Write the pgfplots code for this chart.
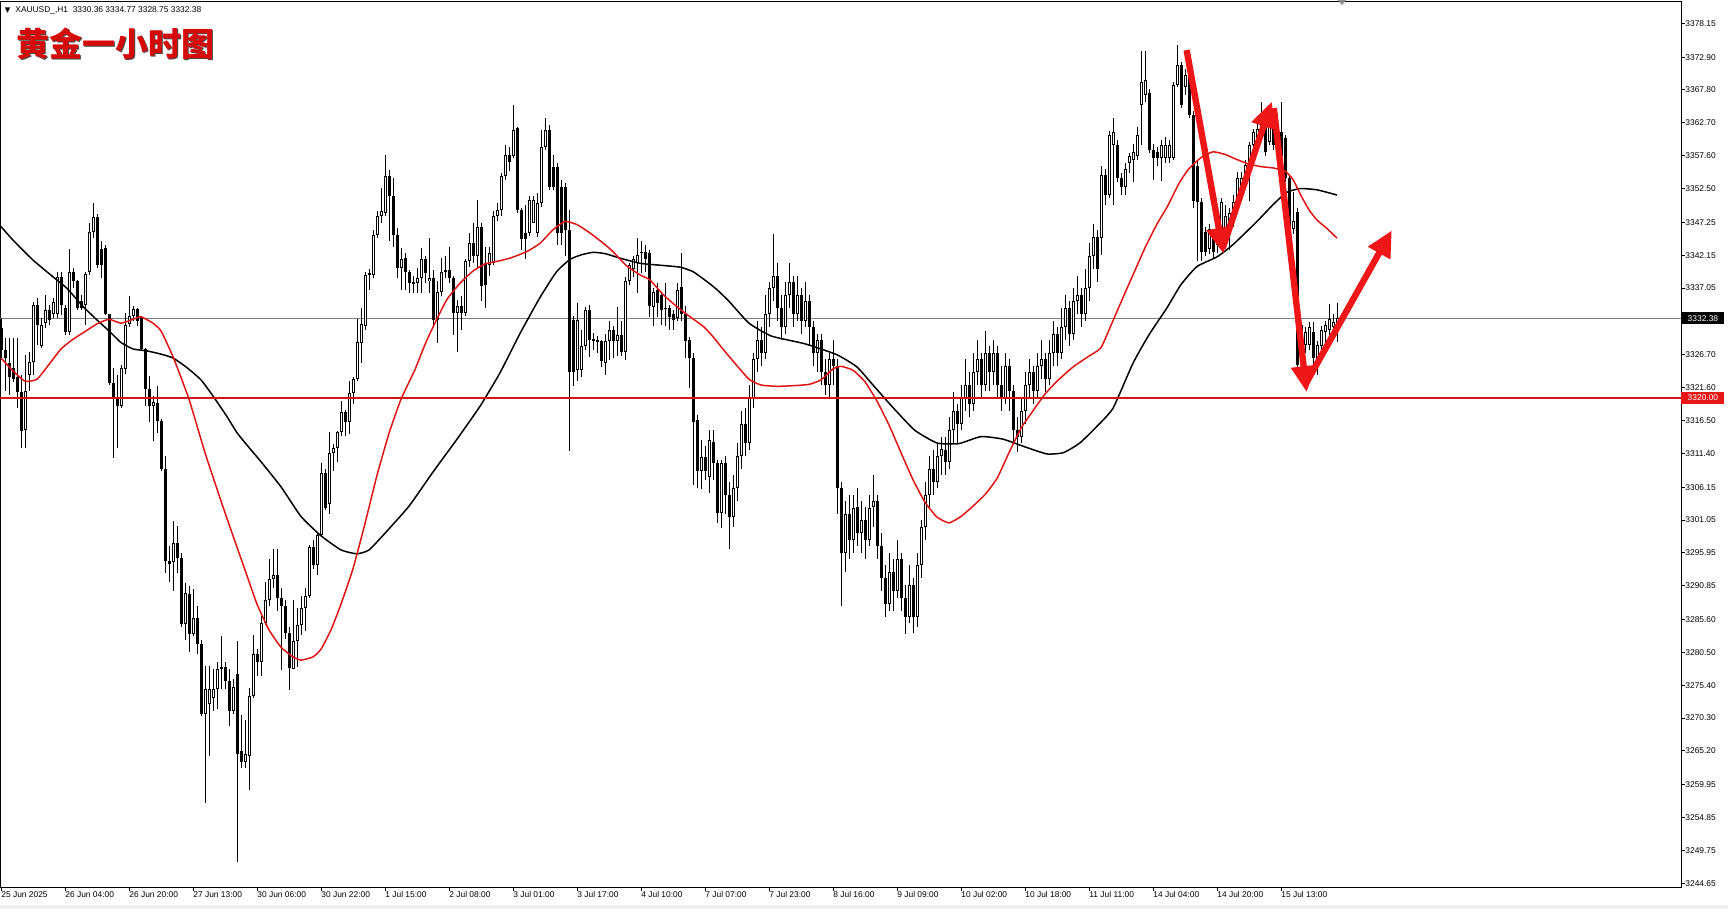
\documentclass[border=0pt]{standalone}
\usepackage{fontspec}
\setmainfont{Liberation Sans}
\newfontfamily\cjk{Noto Sans CJK SC}
\newfontfamily\dejavu{DejaVu Sans}
\usepackage{pgfplots}
\usepackage{pgfplotstable}
\pgfplotsset{compat=1.18}
\usetikzlibrary{arrows.meta}
\definecolor{mared}{RGB}{225,20,20}
\definecolor{lvlred}{RGB}{205,25,25}
\definecolor{arrred}{RGB}{238,22,22}
\definecolor{boxred}{RGB}{232,22,22}
\definecolor{titlered}{RGB}{215,10,10}

\pgfplotstableread{
i o h l c
0 3330.8 3332.4 3326.0 3327.4
1 3327.4 3329.3 3321.0 3326.2
2 3325.4 3329.3 3320.5 3323.3
3 3324.6 3329.3 3322.5 3323.0
4 3323.3 3329.3 3318.4 3321.0
5 3321.0 3323.6 3312.2 3314.8
6 3315.0 3326.7 3312.2 3321.0
7 3323.6 3327.2 3321.0 3325.6
8 3325.6 3334.9 3323.6 3334.4
9 3334.4 3335.5 3328.2 3331.3
10 3328.0 3332.4 3327.8 3331.3
11 3331.6 3336.0 3330.8 3333.7
12 3333.7 3334.4 3331.3 3332.1
13 3333.1 3335.5 3332.4 3334.9
14 3333.1 3339.6 3332.4 3338.8
15 3338.8 3339.6 3332.9 3334.4
16 3333.9 3334.4 3329.8 3330.3
17 3330.3 3343.2 3329.8 3339.6
18 3339.6 3340.1 3337.0 3338.1
19 3338.1 3338.3 3333.6 3333.9
20 3335.0 3336.0 3333.6 3333.9
21 3334.4 3339.6 3331.3 3339.3
22 3339.6 3347.1 3339.1 3345.8
23 3345.8 3350.2 3344.8 3348.1
24 3348.1 3348.6 3340.1 3340.6
25 3343.2 3344.3 3338.6 3340.6
26 3343.2 3343.7 3332.9 3333.1
27 3333.1 3333.1 3322.0 3322.3
28 3322.3 3324.6 3310.6 3320.0
29 3320.0 3323.6 3312.2 3318.7
30 3318.7 3325.1 3318.4 3324.6
31 3324.5 3333.2 3323.8 3331.4
32 3331.4 3335.8 3331.0 3332.7
33 3332.7 3334.3 3332.0 3333.8
34 3333.8 3334.0 3331.2 3332.0
35 3332.5 3332.7 3327.3 3327.6
36 3327.6 3327.8 3318.8 3321.4
37 3321.4 3323.4 3316.2 3318.8
38 3318.8 3320.3 3313.3 3319.3
39 3319.3 3321.9 3314.6 3316.4
40 3316.4 3316.8 3308.6 3308.9
41 3308.9 3311.0 3292.9 3294.7
42 3294.7 3297.0 3291.5 3294.2
43 3294.5 3300.9 3290.0 3297.5
44 3297.5 3300.1 3292.9 3295.2
45 3295.2 3296.0 3284.4 3284.9
46 3284.9 3291.3 3282.5 3289.7
47 3289.5 3290.8 3280.5 3283.3
48 3283.3 3290.3 3283.0 3285.9
49 3285.9 3287.7 3280.2 3281.8
50 3281.8 3282.5 3270.6 3270.9
51 3270.9 3278.4 3257.2 3274.8
52 3272.5 3278.4 3264.4 3274.8
53 3273.5 3277.9 3271.4 3274.8
54 3274.8 3279.0 3271.7 3277.9
55 3277.9 3283.1 3274.8 3278.2
56 3278.2 3279.0 3274.8 3276.1
57 3276.1 3277.9 3269.1 3271.4
58 3271.4 3276.4 3271.0 3275.1
59 3277.1 3282.3 3248.0 3264.7
60 3265.2 3270.8 3262.6 3263.5
61 3263.5 3270.0 3262.6 3264.7
62 3264.4 3275.0 3259.2 3273.8
63 3273.8 3283.2 3273.5 3280.2
64 3280.2 3281.0 3276.8 3279.0
65 3279.0 3286.2 3276.8 3285.0
66 3285.0 3291.4 3284.7 3288.6
67 3288.6 3295.0 3287.7 3291.9
68 3291.9 3296.5 3290.5 3292.6
69 3292.6 3296.5 3287.0 3289.0
70 3289.0 3290.5 3277.7 3287.7
71 3287.7 3288.6 3282.6 3283.5
72 3283.5 3284.4 3274.7 3278.0
73 3278.0 3288.6 3278.0 3282.3
74 3282.3 3287.4 3278.3 3284.7
75 3284.7 3289.3 3283.2 3287.4
76 3287.4 3290.5 3283.8 3289.3
77 3289.3 3297.1 3289.0 3296.8
78 3296.8 3298.0 3293.5 3294.1
79 3294.1 3299.0 3292.6 3298.7
80 3298.7 3309.9 3298.4 3308.4
81 3308.4 3309.0 3302.6 3302.9
82 3303.5 3314.7 3302.0 3311.4
83 3311.4 3312.9 3308.7 3312.3
84 3312.3 3314.9 3310.0 3314.7
85 3314.7 3319.6 3314.1 3317.8
86 3317.8 3318.1 3314.1 3316.2
87 3316.2 3322.6 3314.4 3320.8
88 3320.8 3323.2 3319.0 3322.9
89 3322.9 3332.3 3322.6 3328.7
90 3328.6 3334.0 3325.5 3331.5
91 3331.1 3339.6 3330.6 3339.1
92 3339.1 3340.0 3336.8 3339.4
93 3339.1 3346.0 3338.6 3345.3
94 3345.3 3349.0 3344.8 3348.2
95 3348.2 3352.6 3347.1 3349.0
96 3348.7 3357.7 3348.2 3354.4
97 3354.4 3355.4 3344.3 3351.3
98 3351.3 3354.1 3343.5 3345.3
99 3345.3 3346.4 3338.6 3340.2
100 3340.2 3343.3 3336.8 3341.5
101 3341.7 3342.5 3336.8 3339.6
102 3339.6 3339.9 3336.3 3337.8
103 3337.8 3338.9 3336.3 3337.9
104 3337.8 3340.2 3336.3 3338.6
105 3338.6 3343.3 3336.3 3341.5
106 3341.5 3342.0 3337.8 3339.4
107 3338.1 3344.8 3336.3 3338.6
108 3338.6 3339.9 3331.1 3332.1
109 3332.1 3338.1 3328.5 3336.5
110 3336.5 3341.7 3335.8 3339.6
111 3339.9 3342.0 3338.6 3339.6
112 3339.9 3343.5 3337.8 3338.6
113 3338.6 3338.9 3329.8 3333.2
114 3333.2 3335.2 3327.2 3334.2
115 3334.2 3335.8 3330.6 3333.2
116 3333.2 3341.5 3332.7 3341.2
117 3341.2 3345.6 3340.4 3344.0
118 3344.0 3347.1 3341.0 3342.0
119 3342.0 3350.8 3340.0 3346.6
120 3346.6 3347.1 3335.0 3337.3
121 3340.9 3343.5 3334.0 3337.6
122 3340.7 3343.5 3338.9 3342.5
123 3341.0 3349.0 3340.7 3348.2
124 3348.2 3350.2 3347.5 3349.2
125 3349.2 3354.9 3348.2 3354.4
126 3354.4 3359.3 3353.9 3357.7
127 3357.7 3359.0 3355.2 3356.7
128 3357.5 3365.5 3357.2 3361.6
129 3361.9 3362.1 3348.7 3349.2
130 3349.2 3349.5 3343.0 3344.6
131 3345.6 3350.0 3341.5 3344.6
132 3345.6 3351.3 3345.1 3350.8
133 3347.1 3351.3 3347.1 3350.8
134 3345.6 3351.8 3345.0 3350.2
135 3350.2 3361.6 3349.7 3359.0
136 3359.0 3363.4 3358.5 3361.6
137 3361.6 3362.4 3352.3 3352.8
138 3355.9 3357.7 3352.3 3352.8
139 3355.9 3356.5 3343.8 3345.6
140 3352.8 3353.9 3343.8 3345.6
141 3352.8 3353.3 3342.0 3346.1
142 3346.1 3349.2 3311.7 3324.1
143 3332.1 3332.7 3321.8 3324.1
144 3324.4 3334.7 3322.6 3332.1
145 3324.4 3330.6 3323.3 3328.0
146 3328.0 3334.2 3327.5 3333.7
147 3333.7 3334.5 3326.4 3329.0
148 3329.0 3330.1 3327.5 3329.1
149 3328.8 3329.6 3327.0 3329.0
150 3328.8 3329.0 3324.8 3325.7
151 3325.4 3330.0 3323.6 3328.8
152 3328.8 3331.9 3325.9 3330.6
153 3330.6 3331.1 3326.2 3328.8
154 3328.8 3334.2 3326.5 3329.8
155 3329.8 3331.9 3326.5 3327.2
156 3327.2 3338.8 3325.9 3338.1
157 3338.1 3340.9 3337.5 3340.7
158 3340.0 3342.0 3338.8 3341.5
159 3340.9 3344.8 3336.3 3342.2
160 3342.5 3344.3 3339.4 3342.7
161 3342.7 3343.8 3339.5 3341.5
162 3342.5 3343.0 3332.6 3334.2
163 3334.2 3337.0 3331.1 3336.5
164 3336.8 3337.8 3332.6 3334.7
165 3335.9 3336.5 3331.3 3333.7
166 3333.9 3337.8 3331.1 3334.0
167 3333.9 3334.5 3330.6 3332.6
168 3333.1 3333.7 3330.6 3332.1
169 3332.4 3337.8 3332.0 3336.8
170 3337.3 3342.5 3332.0 3333.1
171 3333.1 3334.2 3326.2 3328.8
172 3329.0 3329.5 3321.5 3326.2
173 3326.2 3326.9 3306.5 3316.3
174 3316.6 3317.4 3306.0 3308.6
175 3308.6 3313.5 3305.8 3310.9
176 3310.9 3312.5 3307.3 3308.6
177 3307.8 3315.0 3305.2 3313.5
178 3313.2 3315.0 3307.3 3309.9
179 3309.9 3310.4 3300.6 3302.1
180 3302.1 3310.4 3299.8 3309.9
181 3309.9 3311.0 3302.0 3305.0
182 3305.0 3307.0 3296.5 3301.5
183 3301.5 3308.0 3300.0 3306.0
184 3306.0 3313.0 3304.0 3311.0
185 3311.0 3318.0 3309.0 3316.0
186 3316.0 3318.5 3311.0 3313.0
187 3313.0 3322.0 3312.0 3320.0
188 3320.0 3327.0 3318.5 3326.0
189 3326.0 3332.0 3324.0 3329.0
190 3329.0 3331.0 3325.0 3327.0
191 3327.0 3336.0 3326.0 3333.0
192 3333.0 3338.0 3331.0 3337.0
193 3337.0 3345.5 3335.0 3339.0
194 3339.0 3341.0 3332.0 3334.0
195 3334.0 3336.0 3329.0 3331.0
196 3331.0 3338.0 3330.0 3336.0
197 3336.0 3341.0 3334.0 3338.0
198 3338.0 3339.0 3331.0 3333.0
199 3333.0 3339.0 3332.0 3336.0
200 3336.0 3337.0 3330.0 3332.0
201 3332.0 3338.0 3331.0 3335.0
202 3335.0 3336.0 3328.0 3331.0
203 3331.0 3332.0 3325.0 3327.0
204 3327.0 3330.0 3324.0 3329.0
205 3329.0 3330.0 3322.0 3324.0
206 3324.0 3326.0 3320.5 3322.0
207 3322.0 3327.0 3320.0 3326.0
208 3326.0 3329.0 3322.0 3325.0
209 3325.0 3326.0 3302.0 3306.0
210 3306.0 3307.0 3287.7 3296.0
211 3296.0 3304.0 3293.0 3302.0
212 3302.0 3305.0 3295.0 3298.0
213 3298.0 3305.0 3296.0 3303.0
214 3303.0 3306.0 3297.0 3299.0
215 3299.0 3304.0 3296.0 3301.0
216 3301.0 3303.0 3295.0 3298.0
217 3298.0 3305.0 3297.0 3303.0
218 3303.0 3308.0 3300.0 3304.0
219 3304.0 3305.0 3295.0 3297.0
220 3297.0 3299.0 3290.0 3292.0
221 3292.0 3294.0 3286.0 3288.0
222 3288.0 3296.0 3287.0 3293.0
223 3293.0 3295.0 3287.0 3290.0
224 3290.0 3298.0 3289.0 3295.0
225 3295.0 3296.0 3287.0 3289.0
226 3289.0 3291.0 3283.4 3286.0
227 3286.0 3294.0 3285.0 3291.0
228 3291.0 3292.0 3283.5 3286.0
229 3286.0 3296.0 3284.5 3294.0
230 3294.0 3301.0 3292.0 3300.0
231 3300.0 3307.0 3298.0 3305.0
232 3305.0 3311.0 3303.0 3309.0
233 3309.0 3312.0 3305.0 3307.0
234 3307.0 3313.0 3306.0 3311.0
235 3311.0 3314.0 3308.0 3312.0
236 3312.0 3314.0 3308.0 3310.0
237 3310.0 3317.0 3309.0 3315.0
238 3315.0 3321.0 3313.0 3318.0
239 3318.0 3319.0 3313.0 3316.0
240 3316.0 3322.0 3315.0 3320.0
241 3320.0 3326.0 3318.0 3322.0
242 3322.0 3324.0 3317.0 3319.0
243 3319.0 3327.0 3318.0 3324.0
244 3324.0 3329.0 3322.0 3326.0
245 3326.0 3327.0 3320.0 3322.0
246 3322.0 3330.4 3321.0 3327.0
247 3327.0 3328.0 3321.0 3324.0
248 3324.0 3329.0 3322.0 3327.0
249 3327.0 3328.0 3320.0 3322.0
250 3322.0 3325.0 3318.0 3320.0
251 3320.0 3327.0 3319.0 3325.0
252 3325.0 3326.0 3318.0 3321.0
253 3321.0 3322.0 3313.0 3315.0
254 3315.0 3317.0 3311.6 3314.0
255 3314.0 3320.0 3313.0 3318.0
256 3318.0 3324.0 3316.0 3322.0
257 3322.0 3326.0 3320.0 3324.0
258 3324.0 3325.0 3319.0 3321.0
259 3321.0 3327.0 3320.0 3325.0
260 3325.0 3329.0 3323.0 3326.0
261 3326.0 3327.0 3321.0 3323.0
262 3323.0 3329.0 3322.0 3327.0
263 3327.0 3332.0 3325.0 3330.0
264 3330.0 3331.0 3325.0 3327.0
265 3327.0 3334.0 3326.0 3331.0
266 3331.0 3336.0 3329.0 3334.0
267 3334.0 3335.0 3328.0 3330.0
268 3330.0 3337.0 3329.0 3335.0
269 3335.0 3339.0 3333.0 3336.0
270 3336.0 3337.0 3331.0 3333.0
271 3333.0 3340.0 3332.0 3337.0
272 3337.0 3344.0 3335.0 3342.0
273 3342.0 3347.0 3340.0 3345.0
274 3345.0 3346.0 3338.0 3340.0
275 3344.8 3356.0 3342.2 3354.6
276 3354.6 3355.5 3350.0 3351.5
277 3351.5 3361.5 3351.0 3360.8
278 3359.3 3363.4 3350.0 3361.3
279 3359.3 3360.0 3353.5 3354.1
280 3354.1 3355.0 3351.5 3352.8
281 3352.8 3356.5 3351.5 3355.6
282 3356.4 3358.0 3355.0 3357.5
283 3357.0 3359.5 3353.6 3358.2
284 3357.5 3362.0 3357.0 3360.8
285 3365.5 3373.8 3359.3 3369.1
286 3367.0 3373.8 3366.0 3369.4
287 3367.3 3368.0 3358.0 3358.5
288 3358.5 3359.5 3353.8 3357.2
289 3358.2 3359.0 3356.0 3357.2
290 3357.2 3360.0 3353.6 3359.3
291 3357.2 3360.5 3356.5 3359.3
292 3357.2 3360.0 3356.5 3359.3
293 3357.2 3369.1 3357.0 3368.6
294 3368.6 3374.8 3368.3 3371.7
295 3371.7 3372.2 3365.0 3365.5
296 3368.3 3371.0 3367.0 3370.1
297 3371.7 3372.7 3363.4 3363.9
298 3363.9 3364.5 3349.5 3350.5
299 3356.0 3357.0 3341.2 3350.5
300 3350.5 3351.0 3341.2 3342.7
301 3345.8 3346.5 3342.0 3342.7
302 3343.2 3347.0 3342.4 3346.3
303 3345.3 3346.0 3341.5 3342.7
304 3343.8 3346.8 3342.5 3345.8
305 3345.8 3351.0 3345.3 3350.5
306 3344.8 3350.0 3343.5 3348.2
307 3345.3 3349.5 3343.0 3348.7
308 3347.4 3351.5 3346.5 3350.5
309 3350.0 3355.0 3349.5 3354.1
310 3352.8 3355.0 3352.0 3354.1
311 3354.1 3357.0 3353.5 3356.2
312 3356.2 3359.8 3350.5 3359.3
313 3359.3 3361.8 3358.5 3361.3
314 3360.3 3362.5 3359.5 3361.8
315 3361.3 3366.0 3360.8 3363.9
316 3362.0 3362.5 3357.5 3358.2
317 3359.8 3364.8 3359.3 3364.4
318 3363.9 3364.2 3358.5 3359.3
319 3359.3 3362.5 3358.5 3361.8
320 3361.3 3366.0 3357.0 3357.5
321 3360.3 3360.8 3353.5 3354.1
322 3354.1 3354.5 3345.5 3346.3
323 3346.3 3352.0 3345.5 3347.4
324 3348.9 3349.5 3324.5 3325.1
325 3331.3 3331.8 3325.6 3328.7
326 3328.2 3331.0 3327.0 3330.3
327 3328.2 3331.8 3327.5 3331.0
328 3330.3 3331.8 3325.1 3326.2
329 3325.6 3328.8 3323.6 3328.2
330 3328.0 3331.2 3326.5 3330.6
331 3330.3 3332.0 3328.5 3331.3
332 3330.5 3334.6 3329.8 3332.2
333 3331.0 3333.0 3329.5 3331.8
334 3330.36 3334.77 3328.75 3332.38
}\candles

\begin{document}
\begin{tikzpicture}
\fill[white] (0,0) rectangle (864pt,-454.5pt);
\path[use as bounding box] (0,0) rectangle (864pt,-454.5pt);
\fill[black!6] (0,-452.5pt) rectangle (864pt,-454.5pt);
\begin{axis}[
  at={(0pt,-1pt)}, anchor=north west,
  width=840.5pt, height=442.5pt, scale only axis,
  xmin=-0.25, xmax=420, ymin=3244.08, ymax=3381.46,
  axis line style={black, line width=0.5pt},
  xtick={0,16,...,320},
  xticklabels={25 Jun 2025,26 Jun 04:00,26 Jun 20:00,27 Jun 13:00,30 Jun 06:00,30 Jun 22:00,1 Jul 15:00,2 Jul 08:00,3 Jul 01:00,3 Jul 17:00,4 Jul 10:00,7 Jul 07:00,7 Jul 23:00,8 Jul 16:00,9 Jul 09:00,10 Jul 02:00,10 Jul 18:00,11 Jul 11:00,14 Jul 04:00,14 Jul 20:00,15 Jul 13:00},
  ytick={3244.65,3249.75,3254.85,3259.95,3265.20,3270.30,3275.40,3280.50,3285.60,3290.85,3295.95,3301.05,3306.15,3311.40,3316.50,3321.60,3326.70,3337.05,3342.15,3347.25,3352.50,3357.60,3362.70,3367.80,3372.90,3378.15},
  yticklabels={3244.65,3249.75,3254.85,3259.95,3265.20,3270.30,3275.40,3280.50,3285.60,3290.85,3295.95,3301.05,3306.15,3311.40,3316.50,3321.60,3326.70,3337.05,3342.15,3347.25,3352.50,3357.60,3362.70,3367.80,3372.90,3378.15},
  xtick pos=left, ytick pos=right, yticklabel pos=right,
  tick align=outside, major tick length=2pt,
  tick style={black, line width=0.5pt},
  ticklabel style={font=\fontsize{4.2}{5}\selectfont, text=black},
  xticklabel style={anchor=north west, inner sep=0pt},
  yticklabel style={anchor=west, inner sep=0pt},
]
% current price line
\addplot[gray, line width=0.5pt, forget plot] coordinates {(-0.25,3332.38) (420,3332.38)};
% wicks
\addplot[draw=none, mark=none, forget plot,
  error bars/.cd, y dir=both, y explicit, error mark=none,
  error bar style={line width=0.5pt, draw=black}]
  table[x=i, y expr={(\thisrow{h}+\thisrow{l})/2}, y error expr={(\thisrow{h}-\thisrow{l})/2}] {\candles};
% bodies
\addplot[draw=none, mark=none, forget plot,
  error bars/.cd, y dir=both, y explicit, error mark=none,
  error bar style={line width=1.5pt, draw=black}]
  table[x=i, y expr={(\thisrow{o}+\thisrow{c})/2}, y error expr={max(abs(\thisrow{c}-\thisrow{o})/2,0.08)}] {\candles};
% hollow inside of bull candles
\addplot[draw=none, mark=none, forget plot,
  error bars/.cd, y dir=both, y explicit, error mark=none,
  error bar style={line width=0.5pt, draw=white}]
  table[x=i, y expr={(\thisrow{o}+\thisrow{c})/2}, y error expr={max(max(\thisrow{c}-\thisrow{o},0)/2-0.155,0)}] {\candles};
% slow MA (black)
\addplot[black, line width=0.75pt, smooth, tension=0.3] coordinates {
(0,3346.6) (3,3344.5) (8,3341.4) (13,3338.8) (16.5,3337.0) (20.5,3334.2) (24,3332.1) (27,3330.4) (30,3328.6) (33,3327.6) (36.5,3327.3) (40,3326.8) (43,3326.2) (46.5,3324.7) (50,3322.8) (53,3320.3) (56.5,3317.1) (59,3314.6) (62,3312.3) (65,3310.1) (70,3306.2) (75,3301.6) (80,3298.6) (85,3296.4) (89,3295.8) (92,3296.4) (96,3299.0) (102,3303.2) (108,3308.5) (114,3313.6) (119.75,3318.7) (124.75,3323.9) (129.75,3330.0) (134.75,3335.6) (138.9,3339.6) (142.25,3341.5) (145,3342.2) (148,3342.6) (151,3342.4) (154.75,3341.7) (159.75,3340.9) (164.75,3340.6) (169.75,3340.3) (173,3339.6) (176.4,3338.1) (179,3336.8) (182,3335.0) (187,3331.6) (192.6,3329.6) (201,3328.4) (209,3326.7) (214,3324.8) (218,3322.0) (223,3318.5) (228.4,3315.0) (234,3313.0) (239.4,3312.9) (245,3314.0) (250.5,3313.6) (256,3312.4) (261.5,3311.3) (265.6,3311.5) (269.7,3313.0) (274,3315.6) (278,3318.4) (283,3325.4) (287,3329.8) (291.4,3333.9) (295,3337.6) (299,3340.4) (304,3341.9) (308,3343.8) (314,3347.4) (318,3350.0) (321.4,3351.9) (324.75,3352.5) (329,3352.3) (334,3351.5)
};
% fast MA (red)
\addplot[mared, line width=0.75pt, smooth, tension=0.3] coordinates {
(0,3326.2) (3,3324.2) (6,3322.6) (9,3322.9) (12,3325.2) (15,3327.6) (18,3329.1) (21,3330.3) (24,3331.5) (27,3332.2) (30,3331.6) (33,3332.2) (35,3332.6) (38,3331.6) (40,3330.4) (43,3326.4) (47,3319.8) (51,3311.5) (55,3304.0) (58,3298.6) (61,3293.3) (64,3288.0) (67,3284.0) (70,3281.3) (73,3279.8) (75,3279.3) (78,3279.8) (80,3281.0) (82.5,3284.0) (85,3288.0) (88,3293.5) (91,3300.5) (94,3308.0) (97,3314.5) (100,3319.8) (103.5,3324.4) (106,3328.3) (108,3331.0) (111.4,3335.2) (114.75,3337.8) (118,3339.7) (121,3340.8) (124,3341.2) (127.25,3341.7) (131.4,3342.7) (134.75,3344.0) (138,3346.1) (141,3347.4) (144,3346.9) (147.25,3345.6) (151,3343.8) (153,3342.7) (156.4,3340.5) (159.75,3339.1) (162.25,3338.3) (165.6,3336.0) (168.9,3334.2) (172.25,3332.6) (175.6,3331.1) (178,3329.5) (181,3327.2) (184,3325.0) (187,3322.9) (190,3322.0) (194,3321.8) (198,3321.9) (202,3322.1) (205,3322.8) (208,3324.5) (210,3324.9) (213,3324.3) (216,3322.5) (219,3319.5) (222,3315.8) (225,3311.5) (228,3307.3) (231,3303.8) (234,3301.5) (237,3300.6) (240,3301.6) (243,3303.2) (246,3305.0) (249,3307.5) (252,3311.5) (255,3315.3) (258,3318.0) (261,3320.6) (264,3322.6) (268,3324.8) (272,3326.5) (275,3327.8) (278,3332.0) (281,3336.3) (283.5,3339.8) (286,3343.3) (289,3347.0) (291.5,3349.6) (294.5,3353.3) (297,3355.6) (300,3357.3) (303,3358.2) (306,3357.8) (309,3357.0) (312,3356.3) (315,3355.9) (318,3355.7) (321,3355.2) (323,3353.9) (325,3351.4) (327,3349.2) (329,3347.6) (331.5,3346.3) (334,3344.8)
};
% support level
\addplot[lvlred, line width=1.1pt, forget plot] coordinates {(-0.25,3320.00) (420,3320.00)};
% annotation arrows
\addplot[arrred, line width=3.2pt, -{Triangle[length=13pt, width=12pt]}] coordinates {(296.4,3374.0) (305.6,3342.4)};
\addplot[arrred, line width=3.2pt, -{Triangle[length=13pt, width=12pt]}] coordinates {(305.4,3343.2) (317.7,3366.0)};
\addplot[arrred, line width=3.2pt, -{Triangle[length=13pt, width=12pt]}] coordinates {(318.2,3365.0) (326.4,3320.9)};
\addplot[arrred, line width=3.2pt, -{Triangle[length=13pt, width=12pt]}] coordinates {(326.0,3322.0) (347.7,3346.0)};
\coordinate (cur) at (axis cs:420,3332.38);
\coordinate (lvl) at (axis cs:420,3320.00);
\end{axis}
\node[fill=black, text=white, anchor=west, minimum width=21.5pt, minimum height=6pt, inner sep=0.3pt, font=\fontsize{4.2}{5}\selectfont] at (cur) {3332.38};
\node[fill=boxred, text=white, anchor=west, minimum width=21.5pt, minimum height=6pt, inner sep=0.3pt, font=\fontsize{4.2}{5}\selectfont] at (lvl) {3320.00};
% header
\node[anchor=base west, inner sep=0pt, font=\dejavu\fontsize{3.6}{4}\selectfont] at (2.2pt,-6.3pt) {▼};
\node[anchor=base west, inner sep=0pt, font=\fontsize{4.2}{5}\selectfont] at (7.5pt,-6.3pt) {XAUUSD\_,H1\ \ 3330.36 3334.77 3328.75 3332.38};
\node[anchor=west, inner sep=0pt, text=black!70, font=\cjk\bfseries\fontsize{16.5}{17}\selectfont] at (8.7pt,-22.6pt) {黄金一小时图};
\node[anchor=west, inner sep=0pt, text=titlered, font=\cjk\bfseries\fontsize{16.5}{17}\selectfont] at (8.2pt,-22.1pt) {黄金一小时图};
\fill[black!45] (669pt,0pt) -- (673pt,0pt) -- (671pt,-2.5pt) -- cycle;
\end{tikzpicture}
\end{document}
